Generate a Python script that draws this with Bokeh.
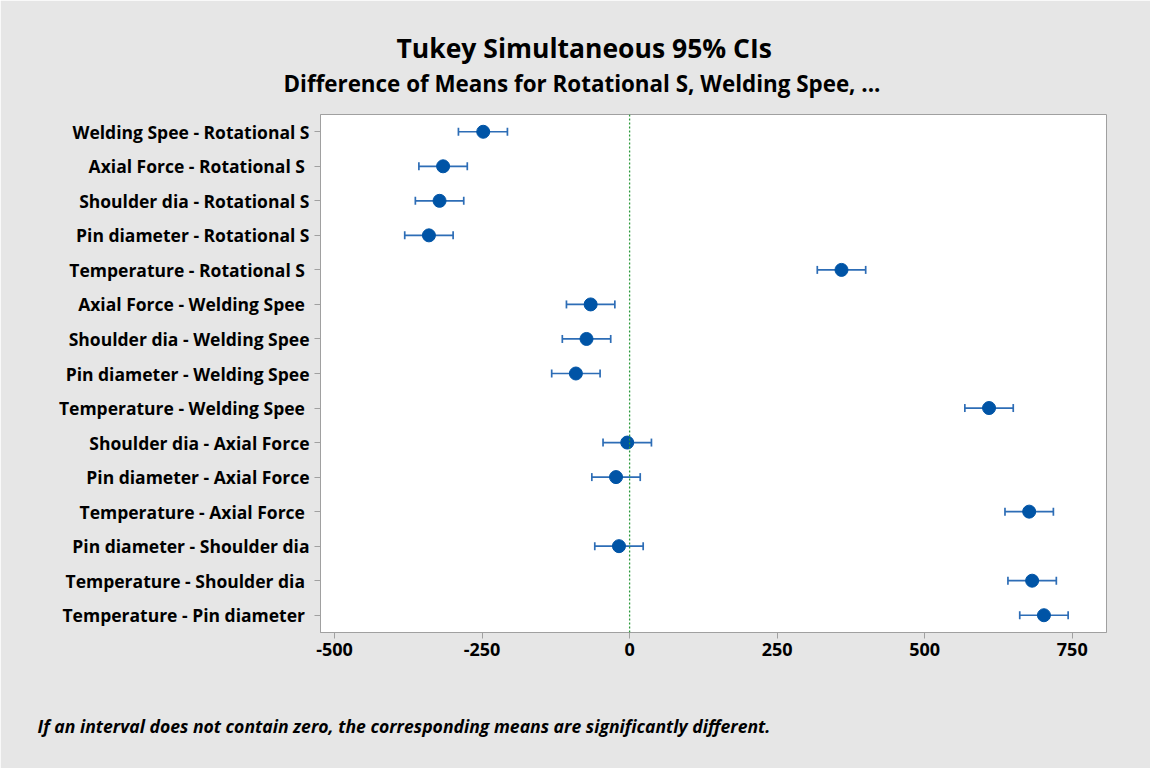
from bokeh.plotting import figure
from bokeh.models import (ColumnDataSource, Whisker, TeeHead, Span, Title, FactorRange,
                          FixedTicker, LinearAxis)
from bokeh.embed import file_html
from bokeh.resources import INLINE

comparisons = [
    "Welding Spee - Rotational S",
    "Axial Force  - Rotational S",
    "Shoulder dia - Rotational S",
    "Pin diameter - Rotational S",
    "Temperature  - Rotational S",
    "Axial Force  - Welding Spee",
    "Shoulder dia - Welding Spee",
    "Pin diameter - Welding Spee",
    "Temperature  - Welding Spee",
    "Shoulder dia - Axial Force",
    "Pin diameter - Axial Force",
    "Temperature  - Axial Force",
    "Pin diameter - Shoulder dia",
    "Temperature  - Shoulder dia",
    "Temperature  - Pin diameter",
]
diff = [-248, -316, -322, -340, 359, -66, -73, -91, 609, -4, -23, 677, -18, 682, 702]
lower = [-290, -357, -363, -381, 318, -107, -114, -132, 568, -45, -64, 636, -59, 641, 661]
upper = [-207, -275, -281, -299, 400, -25, -32, -50, 650, 37, 18, 718, 23, 723, 743]
x_ticks = [-500, -250, 0, 250, 500, 750]

title_text = "Tukey Simultaneous 95% CIs"
subtitle_text = "Difference of Means for Rotational S, Welding Spee, ..."
note_text = "If an interval does not contain zero, the corresponding means are significantly different."

FONT = "Open Sans"
BG = "#e6e6e6"

p = figure(
    width=1150, height=768,
    y_range=FactorRange(factors=comparisons[::-1]),
    x_range=(-523.7, 808),
    output_backend="svg", toolbar_location=None,
    min_border_left=320, min_border_right=44,
    min_border_top=114, min_border_bottom=136,
    background_fill_color="white", border_fill_color=BG,
    title=None,
)
p.outline_line_color = "#a0a0a0"
p.outline_line_width = 1
p.xgrid.visible = False
p.ygrid.visible = False

for ax in (p.xaxis, p.yaxis):
    ax.axis_line_color = "#a0a0a0"
    ax.major_tick_line_color = "#a0a0a0"
    ax.major_tick_out = 6
    ax.major_tick_in = 0
    ax.minor_tick_line_color = None
    ax.major_label_text_font = FONT
    ax.major_label_text_font_style = "bold"
    ax.major_label_text_color = "black"

p.yaxis.major_label_text_font_size = "17.5px"
p.xaxis.major_label_text_font_size = "18px"
p.xaxis.ticker = FixedTicker(ticks=x_ticks)
p.xaxis.major_label_overrides = {t: str(t) for t in x_ticks}
p.xaxis.major_label_standoff = 4
p.yaxis.major_label_standoff = 5

p.add_layout(Span(location=0, dimension="height", line_color="#2a9a3a",
                  line_dash="2 2", line_width=1.3))

src = ColumnDataSource(dict(comp=comparisons, diff=diff, lower=lower, upper=upper))
bar_color = "#2d6db6"
w = Whisker(source=src, base="comp", lower="lower", upper="upper", dimension="width",
            line_color=bar_color, line_width=1.7,
            upper_head=TeeHead(size=8, line_color=bar_color, line_width=1.7),
            lower_head=TeeHead(size=8, line_color=bar_color, line_width=1.7))
p.add_layout(w)
p.scatter(x="diff", y="comp", source=src, size=13, color="#0054a6")

sub = Title(text=subtitle_text, align="left", offset=-37, text_font=FONT, text_font_style="bold",
            text_font_size="22.4px", text_color="black", standoff=31)
ttl = Title(text=title_text, align="left", offset=76, text_font=FONT, text_font_style="bold",
            text_font_size="26.5px", text_color="black", standoff=-31)
p.add_layout(sub, "above")
p.add_layout(ttl, "above")

# invisible spacer axis (one hidden tick, empty label) to push the footnote down
spacer = LinearAxis(ticker=FixedTicker(ticks=[0]), major_label_overrides={0: ""},
                    axis_line_color=None, major_tick_line_color=None, minor_tick_line_color=None,
                    major_tick_out=43, major_tick_in=0, minor_tick_out=0,
                    major_label_standoff=0, major_label_text_font_size="1px")
p.add_layout(spacer, "below")
note = Title(text=note_text, align="left", offset=-283, text_font=FONT, text_font_style="bold italic",
             text_font_size="17.6px", text_color="black", standoff=20)
p.add_layout(note, "below")

open("out.html", "w").write(file_html(p, INLINE))
